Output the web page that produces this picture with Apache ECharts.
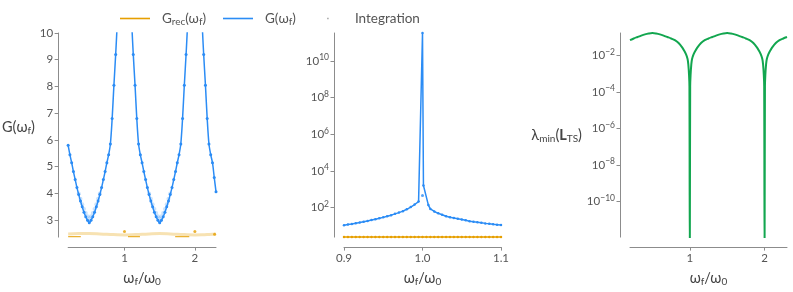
<!DOCTYPE html>
<html><head><meta charset="utf-8">
<script src="https://cdn.jsdelivr.net/npm/echarts@6/dist/echarts.min.js"></script>
<style>html,body{margin:0;padding:0;background:#fff}#c{width:793px;height:292px}</style>
</head><body><div id="c"></div>
<script>
// ---------- Panel 1: G(ω) and G_rec(ω) vs ω_f/ω_0 ----------
const omega1 = [0.200,0.225,0.250,0.275,0.300,0.325,0.350,0.375,0.400,0.425,0.450,0.475,0.500,0.525,0.550,0.575,0.600,0.625,0.650,0.675,0.700,0.725,0.750,0.775,0.800,0.825,0.850,0.875,0.900,0.925,0.950,0.975,1.000,1.025,1.050,1.075,1.100,1.125,1.150,1.175,1.200,1.225,1.250,1.275,1.300,1.325,1.350,1.375,1.400,1.425,1.450,1.475,1.500,1.525,1.550,1.575,1.600,1.625,1.650,1.675,1.700,1.725,1.750,1.775,1.800,1.825,1.850,1.875,1.900,1.925,1.950,1.975,2.000,2.025,2.050,2.075,2.100,2.125,2.150,2.175,2.200,2.225,2.250,2.275,2.300];
const G1 = [5.80,5.45,5.15,4.82,4.52,4.22,3.96,3.72,3.50,3.30,3.13,3.00,2.91,3.00,3.13,3.30,3.50,3.72,3.96,4.22,4.52,4.82,5.15,5.45,5.85,6.80,8.05,9.20,10.6,13.5,20.0,40.0,null,40.0,20.0,13.5,10.6,9.20,8.05,6.80,5.85,5.45,5.15,4.82,4.52,4.22,3.96,3.72,3.50,3.30,3.13,3.00,2.91,3.00,3.13,3.30,3.50,3.72,3.96,4.22,4.52,4.82,5.15,5.45,5.85,6.80,8.05,9.20,10.6,13.5,20.0,40.0,null,40.0,20.0,13.5,10.6,9.20,8.05,6.80,5.85,5.45,5.15,4.60,4.07];
const omega1Light = [0.350,0.375,0.400,0.425,0.450,0.475,0.500,0.525,0.550,0.575,0.600,0.625,0.650,1.350,1.375,1.400,1.425,1.450,1.475,1.500,1.525,1.550,1.575,1.600,1.625,1.650];
const G1Light = [4.00,3.80,3.60,3.42,3.27,3.15,3.07,3.15,3.27,3.42,3.60,3.80,4.00,4.00,3.80,3.60,3.42,3.27,3.15,3.07,3.15,3.27,3.42,3.60,3.80,4.00];
const omega1Rec = [0.20,0.35,0.50,0.65,0.80,0.90,1.00,1.10,1.20,1.35,1.50,1.65,1.80,1.90,2.00,2.10,2.20,2.30];
const Grec1 = [2.49,2.50,2.50,2.49,2.47,2.455,2.45,2.455,2.47,2.49,2.50,2.49,2.47,2.455,2.45,2.455,2.47,2.49];
const omega1RecLow = [0.20,0.38,0.39,1.05,1.22,1.23,1.72,1.92];
const Grec1Low = [2.385,2.385,null,2.385,2.385,null,2.385,2.385];
const omega1RecPts = [1.00,2.00,2.28];
const Grec1Pts = [2.58,2.58,2.48];

// ---------- Panel 2: zoom around ω_f/ω_0 = 1 (log scale) ----------
const omega2 = [0.900,0.905,0.910,0.915,0.920,0.925,0.930,0.935,0.940,0.945,0.950,0.955,0.960,0.965,0.970,0.975,0.980,0.985,0.990,0.995,1.000,1.0012,1.0075,1.010,1.015,1.020,1.025,1.030,1.035,1.040,1.045,1.050,1.055,1.060,1.065,1.070,1.075,1.080,1.085,1.090,1.095,1.100];
const G2 = [10.7,11.7,12.6,13.8,15.1,16.6,18.2,20.4,22.9,25.7,28.8,33.1,38.0,44.7,52.5,63.1,79.4,105,145,209,3.47e11,1585,135,83.2,60.3,47.9,39.8,33.1,29.5,26.3,24.0,21.9,20.0,17.8,16.6,15.5,14.5,13.5,12.9,12.0,11.5,11.0];
const omega2Rec = [0.900,0.905,0.910,0.915,0.920,0.925,0.930,0.935,0.940,0.945,0.950,0.955,0.960,0.965,0.970,0.975,0.980,0.985,0.990,0.995,1.000,1.005,1.010,1.015,1.020,1.025,1.030,1.035,1.040,1.045,1.050,1.055,1.060,1.065,1.070,1.075,1.080,1.085,1.090,1.095,1.100];
const Grec2 = [2.42,2.42,2.42,2.42,2.42,2.42,2.42,2.42,2.42,2.42,2.42,2.42,2.42,2.42,2.42,2.42,2.42,2.42,2.42,2.42,2.42,2.42,2.42,2.42,2.42,2.42,2.42,2.42,2.42,2.42,2.42,2.42,2.42,2.42,2.42,2.42,2.42,2.42,2.42,2.42,2.42];
const omega2Int = [1.000];
const G2Int = [447];

// ---------- Panel 3: smallest eigenvalue (log scale) ----------
const omega3 = [0.20,0.25,0.30,0.35,0.40,0.45,0.50,0.55,0.60,0.65,0.70,0.75,0.80,0.85,0.90,0.925,0.95,0.97,0.98,0.99,0.995,1.00,1.005,1.01,1.02,1.03,1.05,1.075,1.10,1.15,1.20,1.25,1.30,1.35,1.40,1.45,1.50,1.55,1.60,1.65,1.70,1.75,1.80,1.85,1.90,1.925,1.95,1.97,1.98,1.99,1.995,2.00,2.005,2.01,2.02,2.03,2.05,2.075,2.10,2.15,2.20,2.25,2.30];
const lambda3 = [0.0676,0.0832,0.100,0.120,0.140,0.156,0.166,0.156,0.140,0.120,0.100,0.0832,0.0676,0.0468,0.0263,0.0178,0.0112,0.0063,0.0032,0.00079,0.0002,1e-13,0.0002,0.00079,0.0032,0.0063,0.0112,0.0178,0.0263,0.0468,0.0676,0.0832,0.100,0.120,0.140,0.156,0.166,0.156,0.140,0.120,0.100,0.0832,0.0676,0.0468,0.0263,0.0178,0.0112,0.0063,0.0032,0.00079,0.0002,1e-13,0.0002,0.00079,0.0032,0.0063,0.0112,0.0178,0.0263,0.0468,0.0676,0.0832,0.100];

// ---------- tick labels ----------
const xTicks1 = [1, 2];
const yTicks1 = [3, 4, 5, 6, 7, 8, 9, 10];
const xTicks2 = [0.9, 1.0, 1.1];
const yTicksExp2 = [2, 4, 6, 8, 10];
const yTicksExp3 = [-10, -8, -6, -4, -2];

// ---------- styling ----------
const FONT = 'Lato, "Open Sans", "DejaVu Sans", sans-serif';
const ORANGE = '#e69f00', BLUE = '#2b8cf5', GREEN = '#12a64f';
const AX = '#8c8c8c', TXT = '#555', NAME = '#444';

const pairs = (xs, ys) => xs.map((x, i) => [x, ys[i]]);
const logPairs = (xs, ys) => xs.map((x, i) => [x, ys[i] == null ? null : Math.log10(ys[i])]);
const sup = v => (v < 0 ? '−' + (-v) : '' + v);

const subRich = { s: { fontFamily: FONT, fontSize: 10, lineHeight: 10, verticalAlign: 'bottom', color: NAME } };
const grids = [
  { left: 58, top: 33, width: 158, height: 206 },
  { left: 344, top: 33, width: 157, height: 206 },
  { left: 630, top: 33, width: 157, height: 206 }
];
function xAxis(i, min, max, ticks, fmt) {
  return {
    gridIndex: i, type: 'value', min, max, offset: 10,
    axisLine: { show: true, lineStyle: { color: AX, width: 1 } },
    axisTick: { show: true, length: 3.5, lineStyle: { color: AX }, customValues: ticks },
    axisLabel: { margin: 5, color: TXT, fontSize: 11.5, fontFamily: FONT, customValues: ticks, formatter: fmt },
    splitLine: { show: false },
    name: 'ω{s|f}/ω{s|0}', nameLocation: 'middle', nameGap: 20,
    nameTextStyle: { fontFamily: FONT, fontSize: 14.5, lineHeight: 18, color: NAME, rich: subRich }
  };
}
function yAxisLin(i, min, max, ticks, name, gap, nameStyle) {
  return {
    gridIndex: i, type: 'value', min, max, offset: 10,
    axisLine: { show: true, lineStyle: { color: AX, width: 1 } },
    axisTick: { show: true, length: 3.5, lineStyle: { color: AX }, customValues: ticks },
    axisLabel: { margin: 5, color: TXT, fontSize: 11.5, fontFamily: FONT, customValues: ticks },
    splitLine: { show: false },
    name, nameLocation: 'middle', nameRotate: 0, nameGap: gap, nameTextStyle: nameStyle
  };
}
function yAxisLog(i, min, max, exps, name, gap, nameStyle) {
  return {
    gridIndex: i, type: 'value', min, max, offset: 10,
    axisLine: { show: true, lineStyle: { color: AX, width: 1 } },
    axisTick: { show: true, length: 3.5, lineStyle: { color: AX }, customValues: exps },
    axisLabel: {
      margin: 5, color: TXT, fontSize: 11.5, fontFamily: FONT, customValues: exps,
      formatter: v => '{b|10}{p|' + sup(v) + '}',
      rich: {
        b: { fontFamily: FONT, fontSize: 11.5, lineHeight: 16, color: TXT },
        p: { fontFamily: FONT, fontSize: 8.5, lineHeight: 8, verticalAlign: 'top', color: TXT }
      }
    },
    splitLine: { show: false },
    name, nameLocation: 'middle', nameRotate: 0, nameGap: gap, nameTextStyle: nameStyle
  };
}

const option = {
  animation: false,
  backgroundColor: '#fff',
  textStyle: { fontFamily: FONT },
  legend: {
    left: 120, top: 10, padding: 0, itemWidth: 30, itemHeight: 14, itemGap: 17,
    textStyle: { fontFamily: FONT, fontSize: 13.5, lineHeight: 17, color: TXT, padding: [0, 0, 0, 7],
      rich: { s: { fontFamily: FONT, fontSize: 10, lineHeight: 10, verticalAlign: 'bottom', color: TXT } } },
    formatter: n => n === 'G_rec' ? 'G{s|rec}(ω{s|f})' : (n === 'G' ? 'G(ω{s|f})' : n),
    data: [
      { name: 'G_rec', icon: 'path://M0,0L0,0M0,6.2L30,6.2L30,7.8L0,7.8ZM30,14L30,14', itemStyle: { color: ORANGE, opacity: 1 } },
      { name: 'G', icon: 'path://M0,0L0,0M0,6.2L30,6.2L30,7.8L0,7.8ZM30,14L30,14', itemStyle: { color: BLUE, opacity: 1 } },
      { name: 'Integration', icon: 'path://M0,0L0,0M14.2,6.2L15.8,6.2L15.8,7.8L14.2,7.8ZM30,14L30,14', itemStyle: { color: '#aaaaaa', opacity: 1 } }
    ]
  },
  grid: grids,
  xAxis: [
    xAxis(0, 0.2, 2.3, xTicks1, v => '' + v),
    xAxis(1, 0.9, 1.1, xTicks2, v => v.toFixed(1)),
    xAxis(2, 0.2, 2.3, xTicks1, v => '' + v)
  ],
  yAxis: [
    yAxisLin(0, 2.37, 10, yTicks1, 'G(ω{s|f})', 7,
      { fontFamily: FONT, fontSize: 14.5, lineHeight: 18, color: NAME, padding: [0, 0, 16, 0], rich: subRich }),
    yAxisLog(1, 0.38, 11.54, yTicksExp2, '', 0, {}),
    yAxisLog(2, -11.95, -0.78, yTicksExp3, 'λ{s|min}({bb|L}{bs|TS})', 32,
      { fontFamily: FONT, fontSize: 14.5, lineHeight: 18, color: NAME, rich: {
        s: { fontFamily: FONT, fontSize: 10, lineHeight: 10, verticalAlign: 'bottom', color: NAME },
        bb: { fontFamily: FONT, fontSize: 14.5, lineHeight: 18, fontWeight: 'bold', color: NAME },
        bs: { fontFamily: FONT, fontSize: 10, lineHeight: 10, verticalAlign: 'bottom', color: NAME }
      } })
  ],
  series: [
    // panel 1
    { name: 'G_rec', type: 'line', xAxisIndex: 0, yAxisIndex: 0, data: pairs(omega1Rec, Grec1), smooth: true,
      symbol: 'none', clip: false, lineStyle: { color: ORANGE, width: 3, opacity: 0.3 }, itemStyle: { color: ORANGE } },
    { name: 'G_rec', type: 'line', xAxisIndex: 0, yAxisIndex: 0, data: pairs(omega1RecLow, Grec1Low),
      symbol: 'none', clip: false, connectNulls: false, lineStyle: { color: ORANGE, width: 1.2, opacity: 0.8 }, itemStyle: { color: ORANGE } },
    { name: 'G_rec', type: 'scatter', xAxisIndex: 0, yAxisIndex: 0, data: pairs(omega1RecPts, Grec1Pts),
      symbolSize: 3, itemStyle: { color: ORANGE } },
    { name: 'G', type: 'line', xAxisIndex: 0, yAxisIndex: 0, data: pairs(omega1, G1),
      symbol: 'circle', symbolSize: 3, showAllSymbol: true, connectNulls: false, smooth: 0.3,
      lineStyle: { color: BLUE, width: 1.5 }, itemStyle: { color: BLUE } },
    { name: 'G', type: 'scatter', xAxisIndex: 0, yAxisIndex: 0, data: pairs(omega1Light, G1Light),
      symbolSize: 4, itemStyle: { color: BLUE, opacity: 0.25 } },
    // panel 2
    { name: 'G_rec', type: 'line', xAxisIndex: 1, yAxisIndex: 1, data: logPairs(omega2Rec, Grec2),
      symbol: 'circle', symbolSize: 2.5, showAllSymbol: true, clip: false,
      lineStyle: { color: ORANGE, width: 1.5 }, itemStyle: { color: ORANGE } },
    { name: 'G', type: 'line', xAxisIndex: 1, yAxisIndex: 1, data: logPairs(omega2, G2),
      symbol: 'circle', symbolSize: 2.5, showAllSymbol: true,
      lineStyle: { color: BLUE, width: 1.5 }, itemStyle: { color: BLUE } },
    { name: 'Integration', type: 'scatter', xAxisIndex: 1, yAxisIndex: 1, data: logPairs(omega2Int, G2Int),
      symbolSize: 3, itemStyle: { color: BLUE } },
    // panel 3
    { name: 'lambda', type: 'line', xAxisIndex: 2, yAxisIndex: 2, data: logPairs(omega3, lambda3),
      symbol: 'none', smooth: 0.3, lineStyle: { color: GREEN, width: 2 } }
  ]
};
echarts.init(document.getElementById('c'), null, { renderer: 'canvas' }).setOption(option);
</script></body></html>
